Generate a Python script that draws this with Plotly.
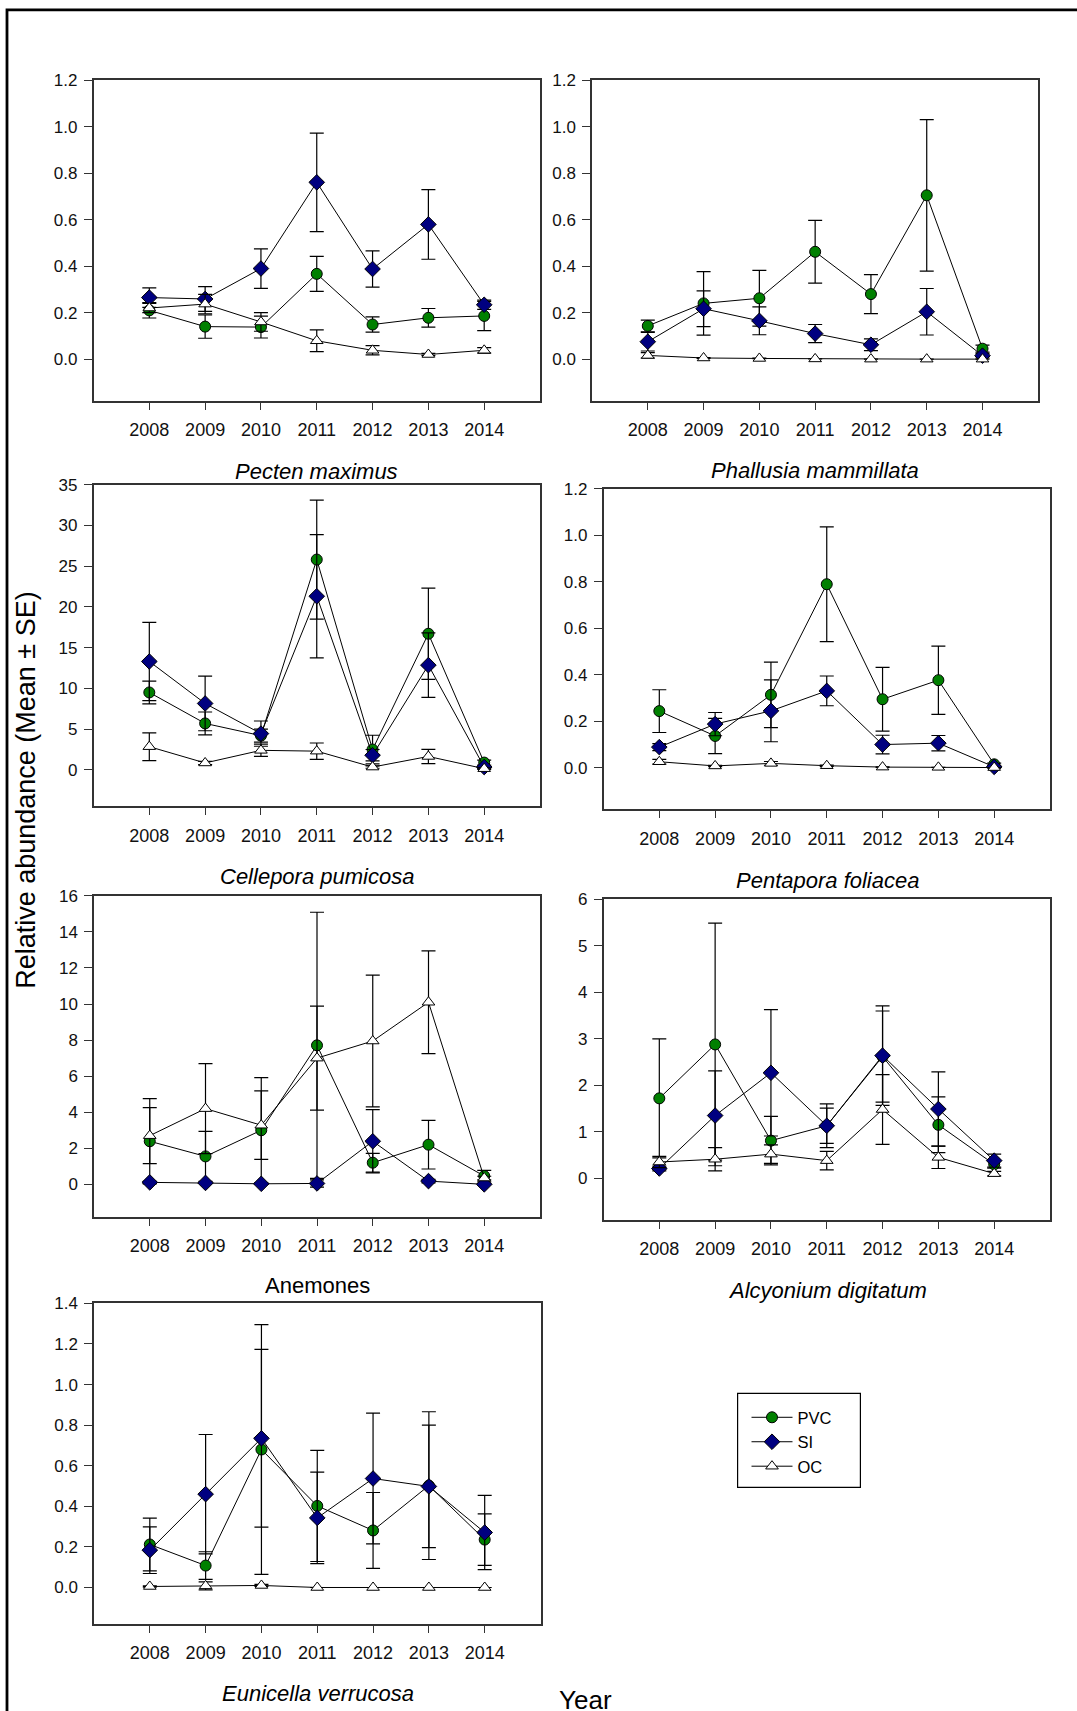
import plotly.graph_objects as go

W, H = 1077, 1711

years = [2008, 2009, 2010, 2011, 2012, 2013, 2014]
year_labels = ["2008", "2009", "2010", "2011", "2012", "2013", "2014"]
series_names = ["PVC", "SI", "OC"]

# Pecten maximus
pecten_pvc = [0.21, 0.14, 0.138, 0.367, 0.149, 0.178, 0.186]
pecten_pvc_se = [0.033, 0.05, 0.047, 0.075, 0.033, 0.04, 0.063]
pecten_si = [0.265, 0.259, 0.39, 0.761, 0.388, 0.58, 0.234]
pecten_si_se = [0.042, 0.053, 0.085, 0.212, 0.078, 0.15, 0.02]
pecten_oc = [0.22, 0.237, 0.16, 0.079, 0.038, 0.02, 0.038]
pecten_oc_se = [0.02, 0.042, 0.04, 0.047, 0.02, 0.005, 0.012]

# Phallusia mammillata
phallusia_pvc = [0.143, 0.24, 0.262, 0.462, 0.28, 0.705, 0.045]
phallusia_pvc_se = [0.025, 0.137, 0.12, 0.135, 0.084, 0.326, 0.015]
phallusia_si = [0.075, 0.217, 0.165, 0.11, 0.062, 0.204, 0.015]
phallusia_si_se = [0.04, 0.077, 0.06, 0.039, 0.025, 0.1, 0.01]
phallusia_oc = [0.016, 0.005, 0.003, 0.001, 0.0, 0.0, 0.0]
phallusia_oc_se = [0.012, 0.002, 0.001, 0.0, 0.0, 0.0, 0.0]

# Cellepora pumicosa
cellepora_pvc = [9.5, 5.7, 4.2, 25.8, 2.5, 16.7, 0.9]
cellepora_pvc_se = [1.4, 1.4, 0.8, 7.3, 1.75, 5.6, 0.3]
cellepora_si = [13.3, 8.15, 4.45, 21.3, 1.8, 12.85, 0.35]
cellepora_si_se = [4.8, 3.35, 1.55, 7.55, 0.7, 3.95, 0.15]
cellepora_oc = [2.85, 0.85, 2.4, 2.3, 0.35, 1.65, 0.15]
cellepora_oc_se = [1.7, 0.2, 0.75, 1.0, 0.15, 0.88, 0.1]

# Pentapora foliacea
pentapora_pvc = [0.243, 0.136, 0.313, 0.789, 0.294, 0.376, 0.014]
pentapora_pvc_se = [0.092, 0.076, 0.141, 0.247, 0.137, 0.147, 0.005]
pentapora_si = [0.088, 0.187, 0.244, 0.33, 0.099, 0.105, 0.003]
pentapora_si_se = [0.015, 0.05, 0.133, 0.064, 0.04, 0.033, 0.003]
pentapora_oc = [0.025, 0.007, 0.018, 0.008, 0.002, 0.001, 0.0]
pentapora_oc_se = [0.01, 0.003, 0.008, 0.003, 0.001, 0.0, 0.0]

# Anemones
anemones_pvc = [2.39, 1.55, 3.0, 7.71, 1.2, 2.2, 0.46]
anemones_pvc_se = [2.36, 1.39, 2.92, 7.38, 0.52, 1.35, 0.32]
anemones_si = [0.11, 0.08, 0.03, 0.05, 2.39, 0.18, 0.0]
anemones_si_se = [0.05, 0.03, 0.02, 0.2, 1.75, 0.1, 0.01]
anemones_oc = [2.7, 4.2, 3.28, 7.0, 7.95, 10.1, 0.35]
anemones_oc_se = [1.55, 2.5, 1.9, 2.88, 3.65, 2.85, 0.1]

# Alcyonium digitatum
alcyonium_pvc = [1.72, 2.88, 0.81, 1.13, 2.62, 1.15, 0.3]
alcyonium_pvc_se = [1.28, 2.61, 0.52, 0.38, 0.98, 0.6, 0.08]
alcyonium_si = [0.21, 1.35, 2.27, 1.13, 2.64, 1.49, 0.38]
alcyonium_si_se = [0.05, 0.96, 1.36, 0.47, 1.07, 0.8, 0.14]
alcyonium_oc = [0.35, 0.41, 0.52, 0.38, 1.48, 0.45, 0.1]
alcyonium_oc_se = [0.12, 0.25, 0.2, 0.2, 0.75, 0.24, 0.05]

# Eunicella verrucosa
eunicella_pvc = [0.212, 0.108, 0.68, 0.402, 0.281, 0.502, 0.236]
eunicella_pvc_se = [0.13, 0.068, 0.615, 0.274, 0.187, 0.364, 0.127]
eunicella_si = [0.184, 0.46, 0.735, 0.343, 0.537, 0.498, 0.271]
eunicella_si_se = [0.115, 0.294, 0.438, 0.225, 0.322, 0.302, 0.183]
eunicella_oc = [0.005, 0.008, 0.01, 0.0, 0.0, 0.0, 0.0]
eunicella_oc_se = [0.003, 0.02, 0.005, 0.0, 0.0, 0.0, 0.0]

panel_titles = ["<i>Pecten maximus</i>", "<i>Phallusia mammillata</i>",
                "<i>Cellepora pumicosa</i>", "<i>Pentapora foliacea</i>",
                "Anemones", "<i>Alcyonium digitatum</i>", "<i>Eunicella verrucosa</i>"]

panel_data = [
    [(pecten_pvc, pecten_pvc_se), (pecten_si, pecten_si_se), (pecten_oc, pecten_oc_se)],
    [(phallusia_pvc, phallusia_pvc_se), (phallusia_si, phallusia_si_se), (phallusia_oc, phallusia_oc_se)],
    [(cellepora_pvc, cellepora_pvc_se), (cellepora_si, cellepora_si_se), (cellepora_oc, cellepora_oc_se)],
    [(pentapora_pvc, pentapora_pvc_se), (pentapora_si, pentapora_si_se), (pentapora_oc, pentapora_oc_se)],
    [(anemones_pvc, anemones_pvc_se), (anemones_si, anemones_si_se), (anemones_oc, anemones_oc_se)],
    [(alcyonium_pvc, alcyonium_pvc_se), (alcyonium_si, alcyonium_si_se), (alcyonium_oc, alcyonium_oc_se)],
    [(eunicella_pvc, eunicella_pvc_se), (eunicella_si, eunicella_si_se), (eunicella_oc, eunicella_oc_se)],
]


def fy(y):
    # vertical placement correction (pixels from top)
    return y - 8.7 * (1 - y / H)


# layout (pixel boxes: left, right, top, bottom)
boxes = [
    (93.5, 540, 80, 400.7),
    (592, 1038.3, 80, 400.7),
    (93.5, 540, 484.3, 806),
    (603.5, 1050, 488.5, 809.2),
    (94, 540, 895.7, 1216.7),
    (603.5, 1050, 899.3, 1220),
    (94, 540.5, 1303.3, 1624),
]
y_ranges = [(-0.18, 1.2), (-0.18, 1.2), (-4.45, 35), (-0.18, 1.2), (-1.8, 16), (-0.9, 6), (-0.18, 1.4)]
y_dticks = [0.2, 0.2, 5, 0.2, 2, 1, 0.2]
y_formats = [".1f", ".1f", "d", ".1f", "d", "d", ".1f"]
title_pos = [(316, 471.7), (815, 470.7), (317, 876.7), (827, 880), (317, 1285), (827, 1290.7), (318, 1693.3)]

styles = [
    dict(symbol="circle", size=11, color="#008000"),
    dict(symbol="diamond", size=12, color="#000080"),
    dict(symbol="triangle-up", size=11, color="#ffffff"),
]

FONT = "Liberation Sans, Arial, Helvetica, sans-serif"
AX = "#333333"

fig = go.Figure()
for i, series in enumerate(panel_data):
    xa = "x" if i == 0 else f"x{i+1}"
    ya = "y" if i == 0 else f"y{i+1}"
    for j, (vals, se) in enumerate(series):
        st = styles[j]
        fig.add_trace(go.Scatter(
            x=years, y=vals, xaxis=xa, yaxis=ya,
            mode="lines+markers", name=series_names[j],
            legendgroup=series_names[j], showlegend=(i == 0),
            line=dict(color="black", width=1),
            marker=dict(symbol=st["symbol"], size=st["size"], color=st["color"],
                        line=dict(color="black", width=1)),
            error_y=dict(type="data", array=se, visible=True, color="black",
                         thickness=1.2, width=7),
            cliponaxis=False,
        ))

layout = dict(
    width=W, height=H, margin=dict(l=0, r=0, t=0, b=0),
    paper_bgcolor="white", plot_bgcolor="white",
    font=dict(family=FONT, color="black"),
    showlegend=True,
    legend=dict(x=746.5 / W, y=1 - fy(1400) / H, xanchor="left", yanchor="top",
                borderwidth=0, bgcolor="rgba(0,0,0,0)", itemwidth=41,
                font=dict(size=16.5, family=FONT), tracegroupgap=0),
)
annotations = []
for i, (l, r, t, b) in enumerate(boxes):
    k = "" if i == 0 else str(i + 1)
    layout["xaxis" + k] = dict(
        domain=[l / W, r / W], anchor="y" + k, range=[2007, 2015],
        tickvals=years, ticktext=year_labels, ticks="outside", ticklen=7,
        tickwidth=1, tickcolor=AX, showline=True, linecolor=AX, linewidth=1.5,
        mirror=True, showgrid=False, zeroline=False,
        tickfont=dict(size=18, family=FONT, color="#111"), ticklabelstandoff=5,
    )
    layout["yaxis" + k] = dict(
        domain=[1 - fy(b) / H, 1 - fy(t) / H], anchor="x" + k, range=list(y_ranges[i]),
        tick0=0, dtick=y_dticks[i], tickformat=y_formats[i], ticks="outside",
        ticklen=8, tickwidth=1, tickcolor=AX, showline=True, linecolor=AX,
        linewidth=1.5, mirror=True, showgrid=False, zeroline=False,
        tickfont=dict(size=17, family=FONT, color="#111"), ticklabelstandoff=3,
    )
    tx, ty = title_pos[i]
    annotations.append(dict(text=panel_titles[i], x=tx / W, y=1 - fy(ty) / H,
                            xref="paper", yref="paper", showarrow=False,
                            xanchor="center", yanchor="middle",
                            font=dict(size=22, family=FONT, color="black")))

annotations.append(dict(text="Relative abundance (Mean ± SE)", x=26 / W, y=1 - 785 / H,
                        xref="paper", yref="paper", showarrow=False, textangle=-90,
                        xanchor="center", yanchor="middle",
                        font=dict(size=27, family=FONT, color="black")))
annotations.append(dict(text="Year", x=585 / W, y=1 - fy(1700) / H,
                        xref="paper", yref="paper", showarrow=False,
                        xanchor="center", yanchor="middle",
                        font=dict(size=26, family=FONT, color="black")))
layout["annotations"] = annotations
layout["shapes"] = [
    dict(type="rect", xref="paper", yref="paper",
         x0=7.0 / W, x1=1.05, y0=-0.05, y1=1 - 0.9 / H,
         line=dict(color="black", width=2.8), fillcolor="rgba(0,0,0,0)"),
    dict(type="rect", xref="paper", yref="paper",
         x0=737.6 / W, x1=860.4 / W, y0=1 - fy(1487.3) / H, y1=1 - fy(1393.3) / H,
         line=dict(color="black", width=1.2), fillcolor="rgba(0,0,0,0)"),
]

fig.update_layout(**layout)
fig.write_html("out.html")
